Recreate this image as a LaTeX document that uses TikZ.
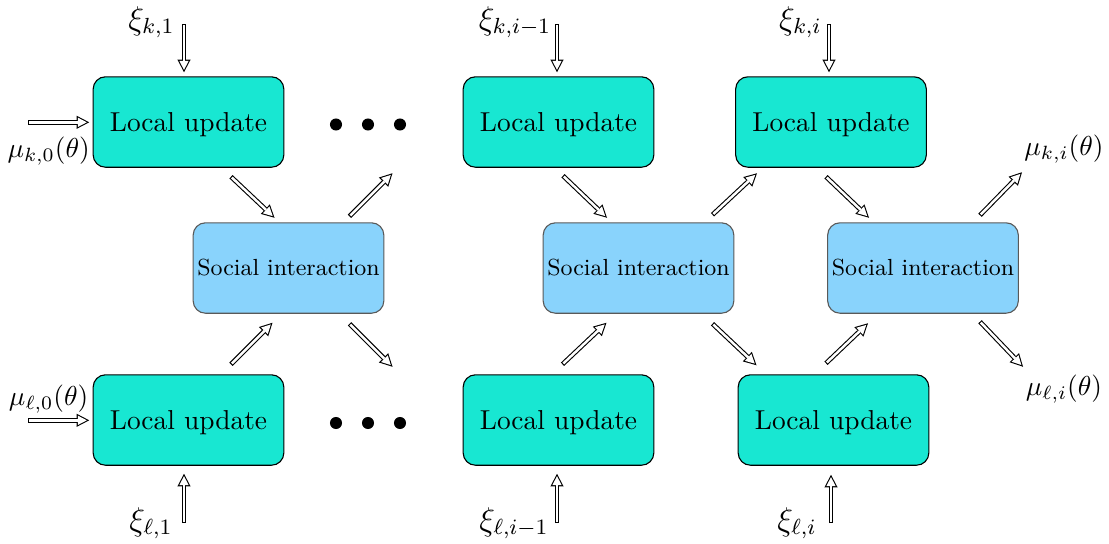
\documentclass[tikz,border=0pt]{standalone}
\usepackage{amssymb}
\usepackage{amsmath}
\usetikzlibrary{arrows.meta,calc}

\definecolor{updcolor}{RGB}{24,231,210}
\definecolor{soccolor}{RGB}{137,211,252}

\tikzset{
  update/.style={draw=black, fill=updcolor, rounded corners=4.5pt, text depth=0pt,
    minimum width=69.6pt, minimum height=33pt},
  social/.style={draw=black!65, fill=soccolor, rounded corners=4.5pt, inner xsep=0.5pt,
    minimum width=69.6pt, minimum height=33pt, font=\fontsize{8.5}{10}\selectfont},
  flow/.style={line width=1.7pt, -{Triangle[length=4.6pt,width=4.8pt,line width=0pt]},
    postaction={draw=white, line width=0.9pt, shorten >=0.88pt, shorten <=0.4pt,
      -{Triangle[length=3.3pt,width=3.45pt,line width=0pt]}}},
  lbl/.style={anchor=base, inner sep=0pt},
}

\begin{document}
\begin{tikzpicture}[x=0.365pt, y=-0.365pt]
   \useasboundingbox (0,0) rectangle (1109,543);

   \node[update] (uk1) at (188.5,122) {Local update};
   \node[update] (uk2) at (558.5,122) {Local update};
   \node[update] (uk3) at (831,122) {Local update};
   \node[update] (ul1) at (188.5,420) {Local update};
   \node[update] (ul2) at (558.5,420) {Local update};
   \node[update] (ul3) at (833.5,420) {Local update};

   \node[social] (si1) at (288.5,268) {Social interaction};
   \node[social] (si2) at (638.5,268) {Social interaction};
   \node[social] (si3) at (923,268) {Social interaction};

   \foreach \x in {336,368,400} {
     \fill (\x,124.5) circle (2.2pt);
     \fill (\x,423) circle (2.2pt);
   }

   % data coming in
   \node[lbl, font=\large] (txk1) at (151.5,29) {$\xi_{k,1}$};
   \node[lbl, font=\large] (txk2) at (515,29) {$\xi_{k,i-1}$};
   \node[lbl, font=\large] (txk3) at (800.5,29) {$\xi_{k,i}$};
   \node[lbl, font=\large] (txl1) at (151,530) {$\xi_{\ell,1}$};
   \node[lbl, font=\large] (txl2) at (514,530) {$\xi_{\ell,i-1}$};
   \node[lbl, font=\large] (txl3) at (797,530) {$\xi_{\ell,i}$};
   \coordinate (xk1) at (184,24);
   \coordinate (xk2) at (557,24);
   \coordinate (xk3) at (829,24);
   \coordinate (xl1) at (184,523);
   \coordinate (xl2) at (557,523);
   \coordinate (xl3) at (831,523);
   \draw[flow] (xk1) -- ($(xk1 |- uk1.north)+(0,-4)$);
   \draw[flow] (xk2) -- ($(xk2 |- uk2.north)+(0,-4)$);
   \draw[flow] (xk3) -- ($(xk3 |- uk3.north)+(0,-4)$);
   \draw[flow] (xl1) -- ($(xl1 |- ul1.south)+(0,8)$);
   \draw[flow] (xl2) -- ($(xl2 |- ul2.south)+(0,8)$);
   \draw[flow] (xl3) -- ($(xl3 |- ul3.south)+(0,9)$);

   % priors
   \node[lbl] (tmk0) at (48.7,157) {$\mu_{k,0}(\theta)$};
   \node[lbl] (tml0) at (48.7,405.5) {$\mu_{\ell,0}(\theta)$};
   \coordinate (mk0) at (28,122.3);
   \coordinate (ml0) at (28,420.3);
   \draw[flow] (mk0) -- ($(mk0 -| uk1.west)+(-3.4,0)$);
   \draw[flow] (ml0) -- ($(ml0 -| ul1.west)+(-3.4,0)$);

   \draw[flow] ($(uk1.south)+(42.5,9)$) -- ($(si1.north)+(-14,-4.5)$);
   \draw[flow] ($(ul1.north)+(42.5,-10)$) -- ($(si1.south)+(-16,9)$);
   \draw[flow] ($(si1.north)+(61,-6)$) -- ++(43,-43);
   \draw[flow] ($(si1.south)+(61,10)$) -- ++(43,43);

   \draw[flow] ($(uk2.south)+(4.5,8)$) -- ($(si2.north)+(-31.5,-4.5)$);
   \draw[flow] ($(ul2.north)+(4,-10)$) -- ($(si2.south)+(-32,9)$);
   \draw[flow] ($(si2.north)+(74,-7.5)$) -- ($(uk3.south)+(-74,5.5)$);
   \draw[flow] ($(si2.south)+(74,10)$) -- ($(ul3.north)+(-77,-9)$);

   \draw[flow] ($(uk3.south)+(-5,9)$) -- ($(si3.north)+(-54,-4.5)$);
   \draw[flow] ($(ul3.north)+(-7.5,-11)$) -- ($(si3.south)+(-55,9.5)$);
   \draw[flow] ($(si3.north)+(57,-7)$) -- ++(42,-43);
   \draw[flow] ($(si3.south)+(57,8)$) -- ++(43,45);

   % new beliefs
   \node[lbl] (tmki) at (1064,155.5) {$\mu_{k,i}(\theta)$};
   \node[lbl] (tmli) at (1064,395.5) {$\mu_{\ell,i}(\theta)$};
\end{tikzpicture}
\end{document}
